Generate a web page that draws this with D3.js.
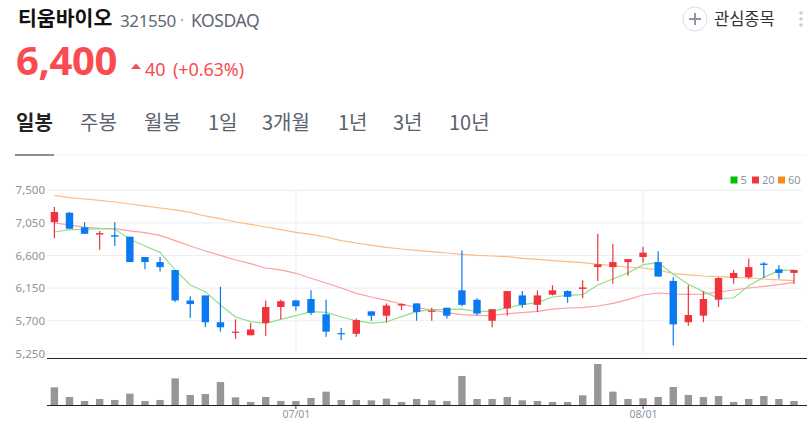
<!DOCTYPE html>
<html>
    <head>
        <meta charset="utf-8">
        <title>티움바이오 일봉</title>
        <script src="https://d3js.org/d3.v7.min.js"></script>
        <style>
            html, body { margin:0; padding:0; background:#fff; overflow:hidden; }
            svg { display:block; font-family:"Noto Sans CJK KR","Noto Sans",sans-serif; }
            .axis path, .axis line { display:none; }
            .axis text { fill:#8b95a1; font-size:11.5px; font-family:"Noto Sans","Noto Sans CJK KR",sans-serif; }
        </style>
    </head>
    <body>
        <svg id="chart" width="807" height="421"></svg>
    </body>
    <script>

        // Values
        const dates = ['06/07','06/10','06/11','06/12','06/13','06/14','06/17','06/18','06/19','06/20',
                       '06/21','06/24','06/25','06/26','06/27','06/28','07/01','07/02','07/03','07/04',
                       '07/05','07/08','07/09','07/10','07/11','07/12','07/15','07/16','07/17','07/18',
                       '07/19','07/22','07/23','07/24','07/25','07/26','07/29','07/30','07/31','08/01',
                       '08/02','08/05','08/06','08/07','08/08','08/09','08/12','08/13','08/14','08/16'];
        const opens = [7060,7190,6990,6890,6880,6860,6580,6510,6400,5980,
                       6050,5680,5540,5500,5670,5890,5980,6000,5790,5530,
                       5520,5830,5770,5910,5940,5830,5880,6120,5990,5700,
                       5870,6050,5920,6060,6110,6140,6440,6440,6510,6580,
                       6510,6250,5680,5770,5990,6290,6300,6490,6410,6360];
        const highs = [7270,7200,7060,6940,7060,6860,6580,6580,6400,6040,
                       6050,6170,5720,5670,5980,5990,5990,6120,5990,5600,
                       5730,5830,5940,5940,5940,5880,5880,6670,6010,5860,
                       6110,6110,6120,6190,6120,6260,6900,6760,6550,6720,
                       6660,6300,6190,6110,6300,6400,6560,6510,6470,6400];
        const lows = [6840,6970,6900,6680,6730,6510,6410,6380,5960,5740,
                      5610,5550,5450,5500,5490,5720,5840,5780,5480,5430,
                      5480,5700,5680,5850,5700,5700,5730,5900,5780,5610,
                      5770,5880,5820,6050,5950,6010,6250,6210,6320,6500,
                      6310,5360,5630,5680,5890,6210,6280,6290,6280,6210];
        const closes = [7200,6970,6900,6910,6860,6510,6510,6440,5980,5930,
                        5680,5610,5550,5580,5890,5970,5900,5810,5550,5520,
                        5710,5770,5910,5930,5820,5840,5770,5920,5800,5860,
                        6110,5920,6050,6120,6030,6160,6480,6510,6550,6640,
                        6310,5650,5780,6000,6290,6360,6440,6470,6360,6400];
        const ma5 = [6925,6957,6962,6971,6966,6824,6732,6644,6401,6194,
                     6102,5918,5752,5688,5665,5720,5770,5826,5816,5752,
                     5701,5669,5683,5757,5826,5853,5853,5862,5830,5830,
                     5881,5922,5950,6028,6051,6060,6194,6276,6359,6474,
                     6502,6341,6203,6102,6010,6014,6184,6299,6391,6401];
        const ma20 = [7049,7022,6989,6976,6971,6939,6916,6879,6805,6732,
                      6663,6603,6539,6488,6428,6401,6355,6286,6221,6152,
                      6079,6028,5982,5931,5881,5849,5812,5784,5775,5770,
                      5798,5812,5830,5862,5876,5881,5904,5941,5991,6056,
                      6083,6069,6065,6069,6097,6125,6152,6175,6198,6230];
        const ma60 = [7431,7399,7380,7362,7339,7311,7284,7256,7229,7196,
                      7146,7109,7063,7031,6994,6957,6920,6893,6856,6805,
                      6773,6741,6713,6690,6672,6654,6635,6617,6603,6594,
                      6585,6562,6548,6529,6516,6502,6479,6460,6442,6428,
                      6401,6350,6332,6318,6309,6299,6290,6276,6263,6253];
        const volumes = [54,25,13,19,16,35,13,16,81,31,
                         34,70,24,10,25,13,13,22,41,16,
                         16,15,20,10,19,15,13,88,19,19,
                         25,15,13,10,10,30,124,41,19,21,
                         25,55,31,25,28,10,19,28,19,13];
        const priceTicks = [5250,5700,6150,6600,7050,7500];
        const dateTicks = ['07/01','08/01'];
        const tabs = ['일봉','주봉','월봉','1일','3개월','1년','3년','10년'];
        const tabX = [16,80,144,208,262,338,393,449];
        const legendNames = ['5','20','60'];

        const RED = '#f0333c';
        const BLUE = '#0b7af0';

        const svg = d3.select('#chart');

        // Scales
        const x = d3.scalePoint().domain(dates).range([54.4, 794]);
        const y = d3.scaleLinear().domain([5250, 7500]).range([353.4, 190.3]);
        const yVol = d3.scaleLinear().domain([0, d3.max(volumes)]).range([405.3, 364]);
        const idx = d3.range(dates.length);

        // Header
        svg.append('text').attr('x', 18).attr('y', 26).attr('font-size', 20.5).attr('font-weight', 700)
            .attr('fill', '#111').text('티움바이오');
        svg.append('text').attr('x', 120).attr('y', 27).attr('font-size', 17).attr('fill', '#5f6873')
            .style('font-family', '"Noto Sans",sans-serif').attr('letter-spacing', -0.4).text('321550');
        svg.append('circle').attr('cx', 182).attr('cy', 20).attr('r', 1.2).attr('fill', '#b0b5bc');
        svg.append('text').attr('x', 191).attr('y', 27).attr('font-size', 17.5).attr('fill', '#5f6873')
            .style('font-family', '"Noto Sans",sans-serif').attr('letter-spacing', -0.4).text('KOSDAQ');
        svg.append('text').attr('x', 16).attr('y', 75).attr('font-size', 40).attr('font-weight', 700)
            .attr('fill', '#fa4b50').style('font-family', '"Noto Sans",sans-serif').attr('letter-spacing', -0.4).text('6,400');
        svg.append('path').attr('d', 'M131,69L136,63.5L141,69Z').attr('fill', '#fa4b50');
        const change = svg.append('text').attr('x', 145).attr('y', 76).attr('font-size', 18).attr('fill', '#fa4b50')
            .style('font-family', '"Noto Sans",sans-serif').attr('letter-spacing', -0.1);
        change.append('tspan').text('40');
        change.append('tspan').attr('x', 173).text('(+0.63%)');

        // Watch button
        svg.append('circle').attr('cx', 695).attr('cy', 19).attr('r', 12)
            .attr('fill', '#fff').attr('stroke', '#dcdfe4');
        svg.append('path').attr('d', 'M689,19H701M695,13V25').attr('stroke', '#8d97a5').attr('stroke-width', 2);
        svg.append('text').attr('x', 714).attr('y', 25).attr('font-size', 16.5).attr('fill', '#333').text('관심종목');
        svg.selectAll('.dot').data([13, 19, 25]).join('circle').attr('class', 'dot')
            .attr('cx', 801).attr('cy', d => d).attr('r', 1.8).attr('fill', '#c9ccd1');

        // Period tabs
        svg.selectAll('.tab').data(tabs).join('text').attr('class', 'tab')
            .attr('x', (d, i) => tabX[i]).attr('y', 130).attr('font-size', 20)
            .attr('font-weight', (d, i) => i === 0 ? 700 : 400)
            .attr('fill', (d, i) => i === 0 ? '#222' : '#5a626d')
            .text(d => d);
        svg.append('line').attr('x1', 15).attr('x2', 807).attr('y1', 155).attr('y2', 155).attr('stroke', '#f2f3f4');
        svg.append('line').attr('x1', 15).attr('x2', 54).attr('y1', 155).attr('y2', 155).attr('stroke', '#222');

        // Grid
        svg.selectAll('.hgrid').data(priceTicks).join('line').attr('class', 'hgrid')
            .attr('x1', 47).attr('x2', 802).attr('y1', d => y(d)).attr('y2', d => y(d))
            .attr('stroke', '#eceef0').attr('stroke-width', 1);
        svg.selectAll('.vgrid').data(dateTicks).join('line').attr('class', 'vgrid')
            .attr('x1', d => x(d)).attr('x2', d => x(d)).attr('y1', y(7500)).attr('y2', y(5250))
            .attr('stroke', '#eceef0').attr('stroke-width', 1);

        // Axes
        svg.append('g').attr('class', 'axis').attr('transform', 'translate(47,0)')
            .call(d3.axisLeft(y).tickValues(priceTicks).tickFormat(d3.format(',')).tickSize(0).tickPadding(2));
        svg.append('g').attr('class', 'axis').attr('transform', 'translate(0,405)')
            .call(d3.axisBottom(x).tickValues(dateTicks).tickSize(0).tickPadding(6))
            .selectAll('text').style('font-size', '10.5px');
        svg.selectAll('.xtick').data(dateTicks).join('line').attr('class', 'xtick')
            .attr('x1', d => x(d)).attr('x2', d => x(d)).attr('y1', 405).attr('y2', 409).attr('stroke', '#333');

        // Moving averages
        const lineOf = values => d3.line().x(i => x(dates[i])).y(i => y(values[i]))(idx);
        [[ma60, '#fdbb80'], [ma20, '#fd9fa2'], [ma5, '#8ee08c']].forEach(([values, color]) => {
            svg.append('path').attr('d', lineOf(values)).attr('fill', 'none')
                .attr('stroke', color).attr('stroke-width', 1.2);
        });

        // Candles
        const colorOf = i => closes[i] >= opens[i] ? RED : BLUE;
        svg.selectAll('.wick').data(idx).join('line').attr('class', 'wick')
            .attr('x1', i => x(dates[i])).attr('x2', i => x(dates[i]))
            .attr('y1', i => y(highs[i])).attr('y2', i => y(lows[i]))
            .attr('stroke', colorOf).attr('stroke-width', 1.2);
        svg.selectAll('.body').data(idx).join('rect').attr('class', 'body')
            .attr('x', i => x(dates[i]) - 3.7).attr('width', 7.4)
            .attr('y', i => y(Math.max(opens[i], closes[i])))
            .attr('height', i => Math.max(1.2, Math.abs(y(opens[i]) - y(closes[i]))))
            .attr('fill', colorOf);

        // Volume bars
        svg.selectAll('.vol').data(idx).join('rect').attr('class', 'vol')
            .attr('x', i => x(dates[i]) - 3.7).attr('width', 7.4)
            .attr('y', i => yVol(volumes[i])).attr('height', i => yVol(0) - yVol(volumes[i]))
            .attr('fill', '#979797');

        // Panel separators
        svg.append('line').attr('x1', 47).attr('x2', 807).attr('y1', 358.5).attr('y2', 358.5).attr('stroke', '#222');
        svg.append('line').attr('x1', 47).attr('x2', 807).attr('y1', 405.5).attr('y2', 405.5).attr('stroke', '#222');

        // Legend
        const legendX = [730.5, 752, 778];
        const legendColors = ['#00c000', '#f0333c', '#f78a1d'];
        legendNames.forEach((name, i) => {
            svg.append('rect').attr('x', legendX[i]).attr('y', 176.5).attr('width', 7).attr('height', 7).attr('fill', legendColors[i]);
            svg.append('text').attr('x', legendX[i] + 10).attr('y', 184).attr('font-size', 11)
                .attr('fill', '#8b95a1').style('font-family', '"Noto Sans",sans-serif').text(name);
        });

    </script>
</html>
